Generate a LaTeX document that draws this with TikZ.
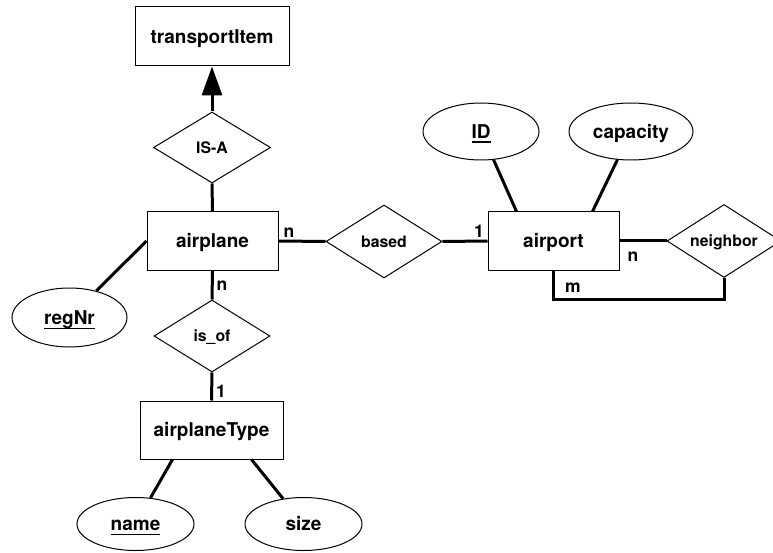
\documentclass[tikz,border=0pt]{standalone}
\usepackage{fontspec}
\setmainfont{TeX Gyre Heros}
\usetikzlibrary{shapes.geometric,arrows.meta}
\newcommand{\keyattr}[1]{\setbox0\hbox{#1}\rlap{\rule[-4.5pt]{\wd0}{1.3pt}}\box0}
\begin{document}
\begin{tikzpicture}[x=1pt,y=-1pt,
  lbl/.style={font=\fontsize{19}{21}\selectfont\bfseries, text height=13.6pt, text depth=0pt, inner sep=0pt},
  entity/.style={lbl, draw, line width=1pt, rectangle},
  attr/.style={lbl, draw, line width=1pt, ellipse},
  rel/.style={draw, line width=1pt, diamond, inner sep=0pt, shape aspect=1.6,
    font=\fontsize{15.8}{17}\selectfont\bfseries, text height=11.3pt, text depth=0pt},
  card/.style={font=\fontsize{17.5}{19}\selectfont\bfseries, inner sep=0pt},
  link/.style={line width=3pt}]
\useasboundingbox (0,0) rectangle (773,553);

% entities
\node[entity, minimum width=154pt, minimum height=59pt] (transport) at (212,36.5) {transportItem};
\node[entity, minimum width=131pt, minimum height=58pt] (airplane) at (212.5,241) {airplane};
\node[entity, minimum width=143pt, minimum height=58pt] (atype) at (211.5,430) {airplaneType};
\node[entity, minimum width=131pt, minimum height=58pt] (airport) at (553.5,241) {airport};

% relationships
\node[rel, minimum width=117pt, minimum height=71pt] (isa) at (212,147.5) {IS-A};
\node[rel, minimum width=116pt, minimum height=72pt] (isof) at (212,336) {is\_of};
\node[rel, minimum width=116pt, minimum height=73pt] (based) at (384,241.5) {based};
\node[rel, minimum width=114pt, minimum height=73pt] (neighbor) at (724,241) {neighbor};

% attributes
\node[attr, minimum width=115pt, minimum height=59pt] (regnr) at (69.5,317.5) {\keyattr{regNr}};
\node[attr, minimum width=117pt, minimum height=53pt] (name) at (135.5,524) {\keyattr{name}};
\node[attr, minimum width=117pt, minimum height=53pt] (size) at (303.5,524) {size};
\node[attr, minimum width=116pt, minimum height=57pt] (id) at (481,131.5) {\keyattr{ID}};
\node[attr, minimum width=124pt, minimum height=57pt] (capacity) at (631,131.5) {capacity};

% generalisation arrow
\draw[link, -{Triangle[length=29pt,width=20pt]}] (isa.north) -- (transport.south);

% connectors
\draw[link] (isa.south) -- (airplane.north);
\draw[link] (airplane.south) -- (isof.north);
\draw[link] (isof.south) -- (atype.north);
\draw[link] (airplane.east) -- (based.west);
\draw[link] (based.east) -- (airport.west);
\draw[link] (airport.east) -- (neighbor.west);
\draw[link] (regnr) -- (airplane.west);
\draw[link] (name) -- ([xshift=33pt]atype.south west);
\draw[link] (size) -- ([xshift=-32pt]atype.south east);
\draw[link] (id) -- ([xshift=29pt]airport.north west);
\draw[link] (capacity) -- ([xshift=-27pt]airport.north east);
\coordinate (loop) at (640,299);
\draw[link] (airport.south) |- (loop) -| (neighbor.south);

% cardinalities
\node[card] (c1) at (289,233) {n};
\node[card] (c2) at (479,231) {1};
\node[card] (c3) at (222,286) {n};
\node[card] (c4) at (221,391) {1};
\node[card] (c5) at (633,257) {n};
\node[card] (c6) at (573,288) {m};
\end{tikzpicture}
\end{document}
